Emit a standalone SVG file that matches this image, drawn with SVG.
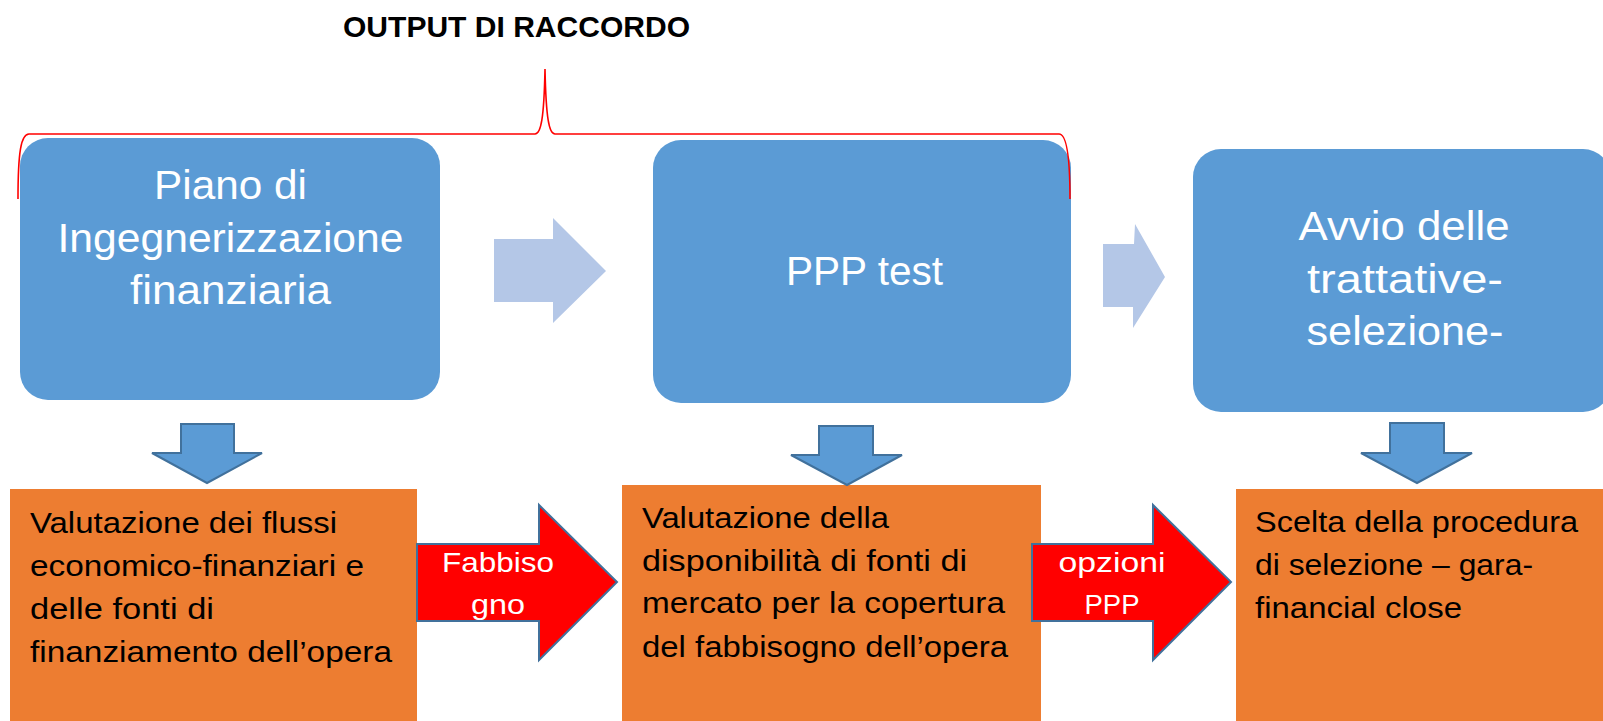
<svg xmlns="http://www.w3.org/2000/svg" width="1603" height="721" viewBox="0 0 1603 721">
<style>
.blue{fill:#5B9BD5}
.light{fill:#B4C7E7}
.down{fill:#5B9BD5;stroke:#41719C;stroke-width:2}
.orange{fill:#ED7D31}
.red{fill:#FF0000;stroke:#41719C;stroke-width:2}
.brace{fill:none;stroke:#FF0000;stroke-width:1.6}
.t{font-family:"Liberation Sans",Arial,sans-serif}
.big{font-size:41px;fill:#FFFFFF;text-anchor:middle}
.body{font-size:30px;fill:#000000}
.lbl{font-size:28px;fill:#FFFFFF;text-anchor:middle}
.title{font-size:30px;font-weight:bold;fill:#000000;text-anchor:middle}
</style>
<rect width="1603" height="721" fill="#FFFFFF"/>
<g id="title">
<text class="t title" x="516.5" y="37" textLength="347" lengthAdjust="spacingAndGlyphs">OUTPUT DI RACCORDO</text>
</g>
<g id="node-piano">
<rect class="blue" x="20" y="138" width="420" height="262" rx="28"/>
<text class="t big" x="230.5" y="199" textLength="153" lengthAdjust="spacingAndGlyphs">Piano di</text>
<text class="t big" x="230.5" y="252" textLength="346" lengthAdjust="spacingAndGlyphs">Ingegnerizzazione</text>
<text class="t big" x="230.5" y="304" textLength="201" lengthAdjust="spacingAndGlyphs">finanziaria</text>
</g>
<g id="node-ppp">
<rect class="blue" x="653" y="140" width="418" height="263" rx="28"/>
<text class="t big" x="864.5" y="285" textLength="157" lengthAdjust="spacingAndGlyphs">PPP test</text>
</g>
<g id="node-avvio">
<rect class="blue" x="1193" y="149" width="418" height="263" rx="28"/>
<text class="t big" x="1404" y="240" textLength="211" lengthAdjust="spacingAndGlyphs">Avvio delle</text>
<text class="t big" x="1405" y="293" textLength="196" lengthAdjust="spacingAndGlyphs">trattative-</text>
<text class="t big" x="1405" y="345" textLength="197" lengthAdjust="spacingAndGlyphs">selezione-</text>
</g>
<g id="node-valutazione1">
<rect class="orange" x="10" y="489" width="407" height="240"/>
<text class="t body" x="30" y="533" textLength="307" lengthAdjust="spacingAndGlyphs">Valutazione dei flussi</text>
<text class="t body" x="30" y="576" textLength="334" lengthAdjust="spacingAndGlyphs">economico-finanziari e</text>
<text class="t body" x="30" y="619" textLength="184" lengthAdjust="spacingAndGlyphs">delle fonti di</text>
<text class="t body" x="30" y="662" textLength="362" lengthAdjust="spacingAndGlyphs">finanziamento dell’opera</text>
</g>
<g id="node-valutazione2">
<rect class="orange" x="622" y="485" width="419" height="240"/>
<text class="t body" x="642" y="528" textLength="247" lengthAdjust="spacingAndGlyphs">Valutazione della</text>
<text class="t body" x="642" y="571" textLength="325" lengthAdjust="spacingAndGlyphs">disponibilità di fonti di</text>
<text class="t body" x="642" y="613" textLength="363" lengthAdjust="spacingAndGlyphs">mercato per la copertura</text>
<text class="t body" x="642" y="657" textLength="366" lengthAdjust="spacingAndGlyphs">del fabbisogno dell’opera</text>
</g>
<g id="node-scelta">
<rect class="orange" x="1236" y="489" width="380" height="240"/>
<text class="t body" x="1255" y="532" textLength="323" lengthAdjust="spacingAndGlyphs">Scelta della procedura</text>
<text class="t body" x="1255" y="575" textLength="278" lengthAdjust="spacingAndGlyphs">di selezione – gara-</text>
<text class="t body" x="1255" y="618" textLength="207" lengthAdjust="spacingAndGlyphs">financial close</text>
</g>
<g id="connectors">
<path class="brace" d="M18,199 C18,152 21,134 29,134 L535,134 C541,134 544,118 545,69 C546,118 549,134 555,134 L1059,134 C1066,134 1070,152 1070,199"/>
<polygon class="light" points="494,239 553,239 553,218 606,271 553,323 553,302 494,302"/>
<polygon class="light" points="1103,244 1134,244 1135,224 1165,277 1133,328 1133,307 1103,307"/>
<polygon class="down" points="181,424 234,424 234,453 262,453 207,483 152,453 181,453"/>
<polygon class="down" points="819,426 873,426 873,455 902,455 847,485 791,455 819,455"/>
<polygon class="down" points="1390,423 1444,423 1444,453 1472,453 1417,483 1361,453 1390,453"/>
<g id="edge-fabbisogno">
<polygon class="red" points="417,544 539,544 539,505 617,582 539,660 539,621 417,621"/>
<text class="t lbl" x="498" y="572" textLength="112" lengthAdjust="spacingAndGlyphs">Fabbiso</text>
<text class="t lbl" x="498" y="614" textLength="54" lengthAdjust="spacingAndGlyphs">gno</text>
</g>
<g id="edge-opzioni">
<polygon class="red" points="1032,544 1153,544 1153,505 1231,582 1153,660 1153,621 1032,621"/>
<text class="t lbl" x="1112" y="572" textLength="107" lengthAdjust="spacingAndGlyphs">opzioni</text>
<text class="t lbl" x="1112" y="614" textLength="55" lengthAdjust="spacingAndGlyphs">PPP</text>
</g>
</g>
</svg>
